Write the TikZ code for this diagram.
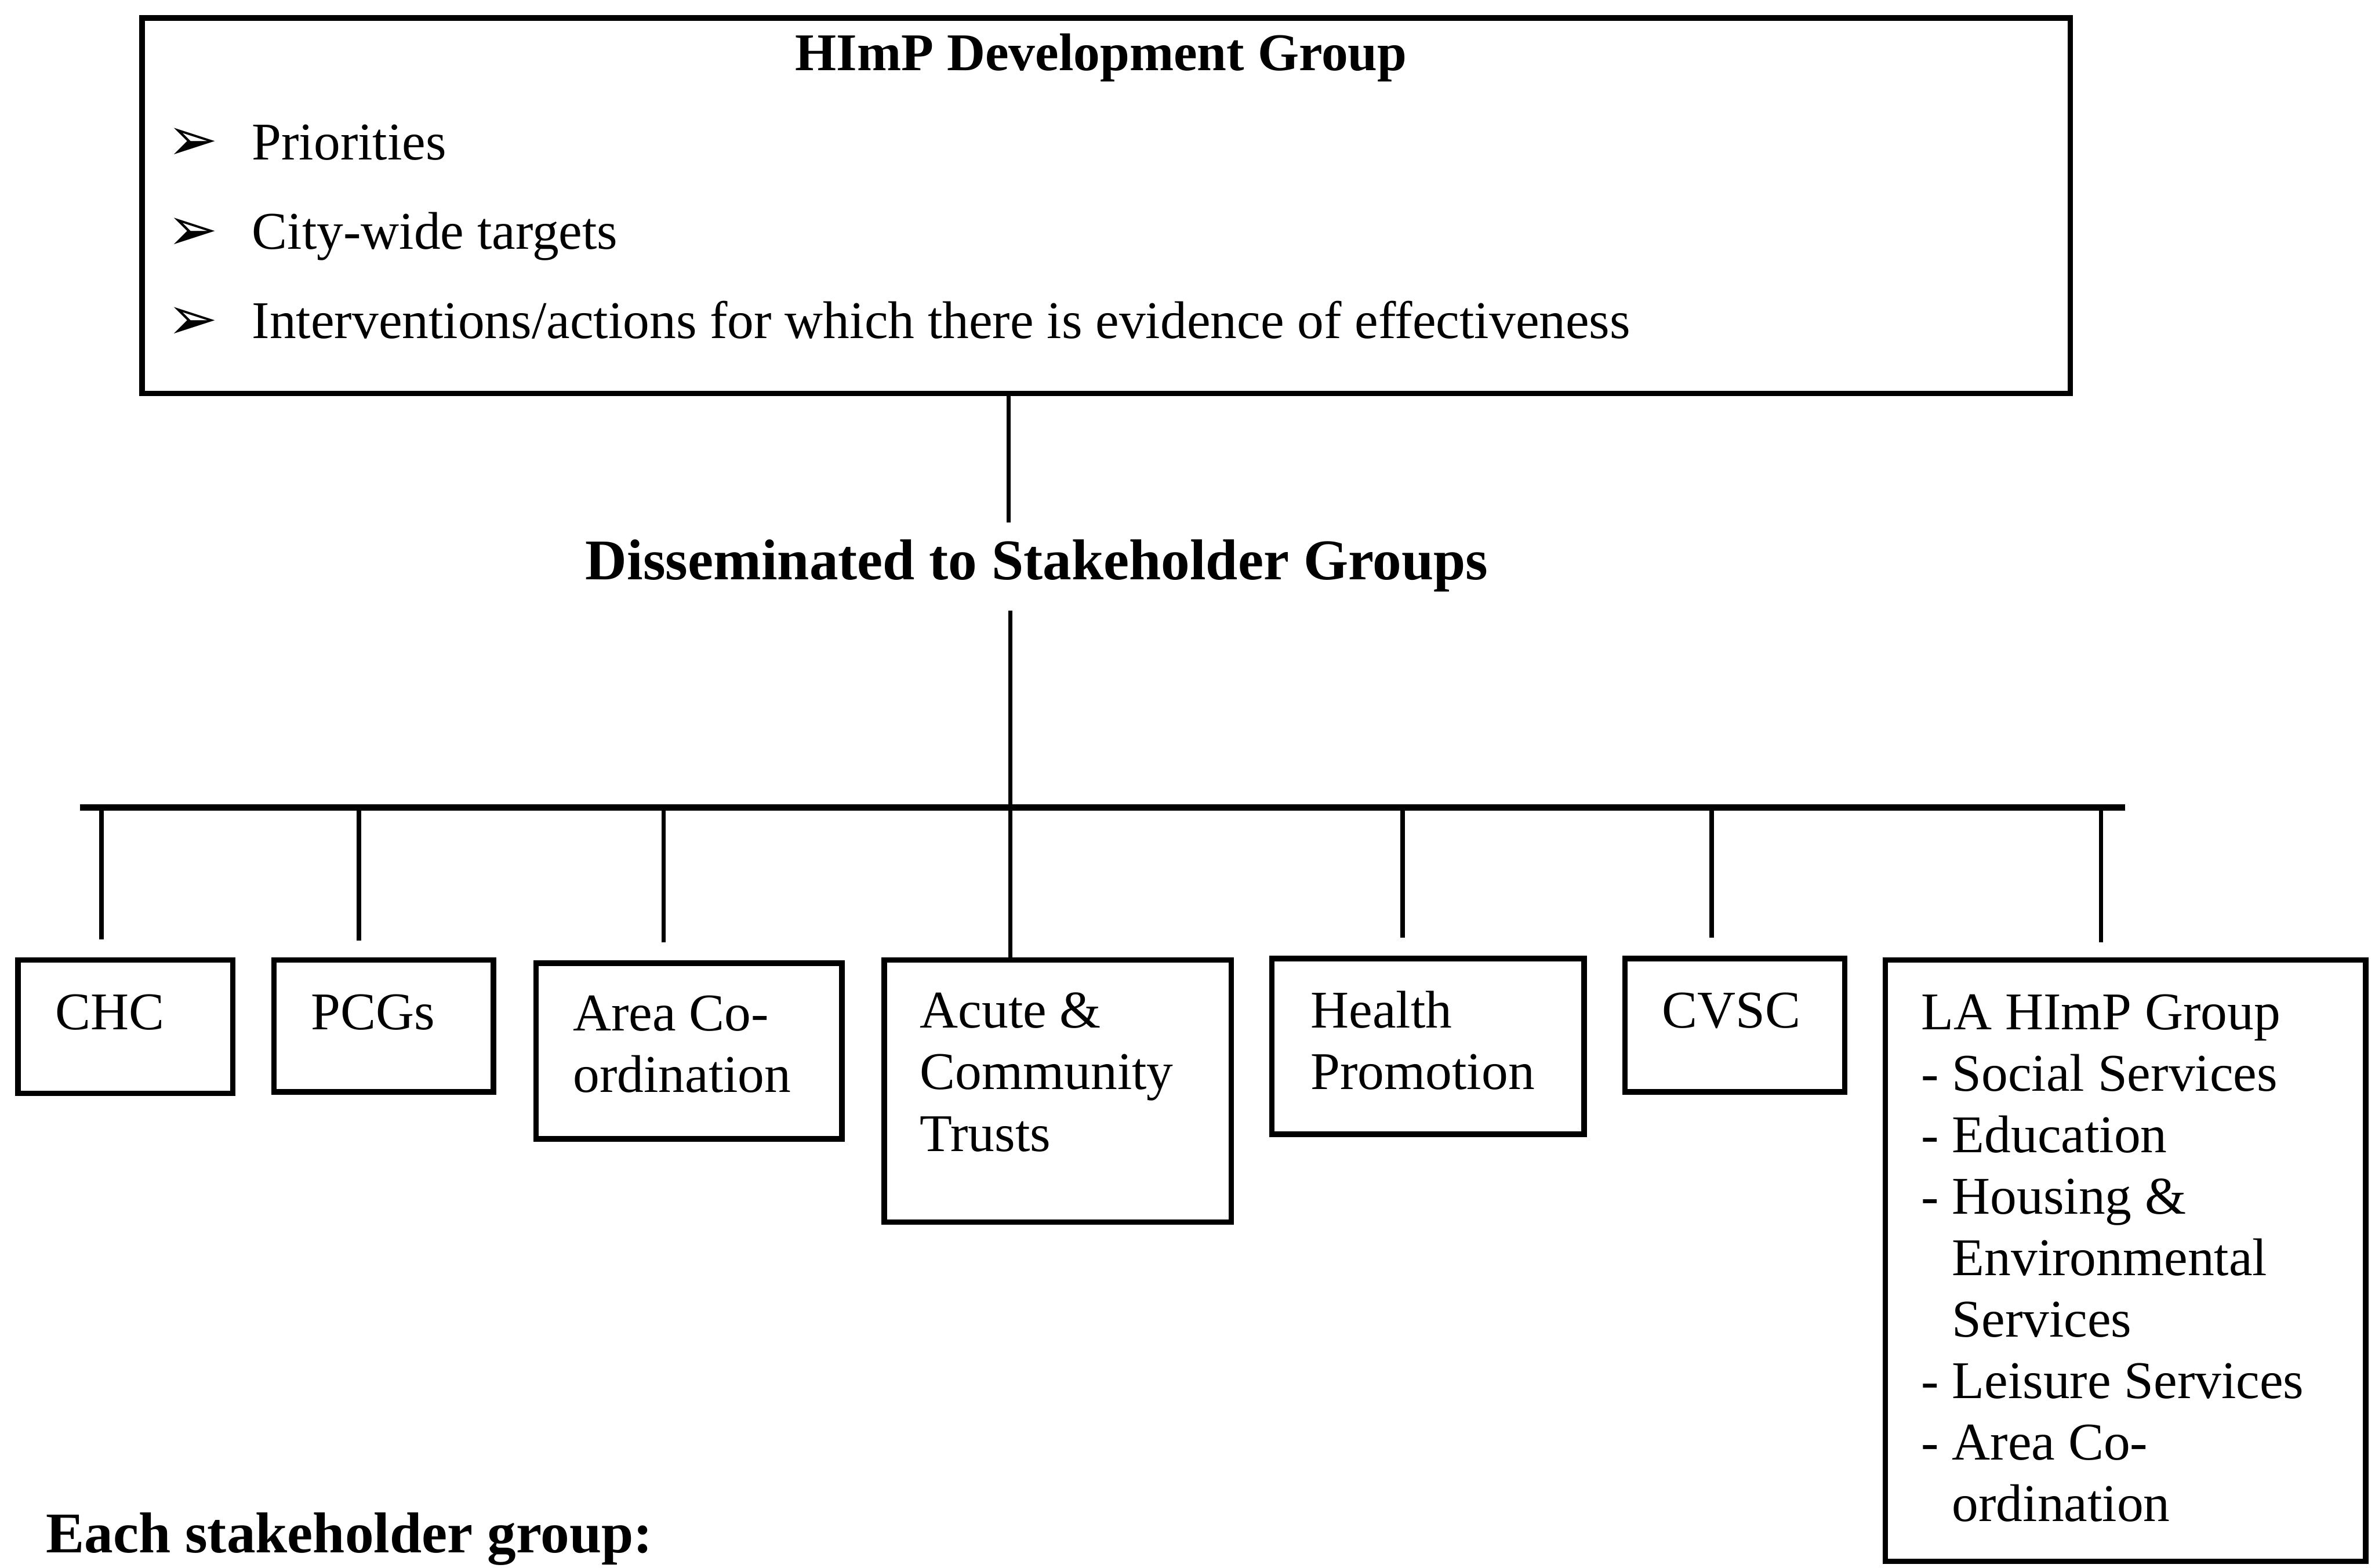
\documentclass[tikz,border=0pt]{standalone}
\usepackage{fontspec}
\setmainfont{Liberation Serif}
\newfontfamily\dejavu{DejaVu Sans}
\usetikzlibrary{calc}
\begin{document}
\begin{tikzpicture}[x=0.5pt,y=-0.5pt,
  boxst/.style={draw, line width=1.8pt, inner sep=0pt, anchor=north west},
  txt/.style={anchor=north west, inner sep=0pt, align=left, font=\fontsize{17.5}{20.3}\selectfont},
  line/.style={anchor=base west, inner sep=0pt, font=\fontsize{17.5}{20.3}\selectfont},
  bul/.style={anchor=base west, inner sep=0pt, font=\dejavu\fontsize{20}{20}\selectfont},
  head/.style={inner sep=0pt, font=\fontsize{19}{22}\selectfont\bfseries},
  conn/.style={line width=1.4pt},
  barst/.style={line width=2.2pt}]
\useasboundingbox (0,0) rectangle (1568,1035);

% top box
\node[boxst, minimum width=636.5pt, minimum height=124pt] (top) at (92,10) {};
\node[anchor=base, inner sep=0pt, font=\fontsize{17.5}{20}\selectfont\bfseries] (title) at (727,46.5) {HImP Development Group};
\node[bul] (b1) at (110,106) {➢};
\node[bul] (b2) at (110,165) {➢};
\node[bul] (b3) at (110,224) {➢};
\node[line] (l1) at (166,105.5) {Priorities};
\node[line] (l2) at (166,164.5) {City-wide targets};
\node[line] (l3) at (166,223.5) {Interventions/actions for which there is evidence of effectiveness};

% dissemination
\node[head, anchor=base] (dis) at (684.5,382.5) {Disseminated to Stakeholder Groups};

% stakeholder boxes
\node[boxst, minimum width=71pt,   minimum height=44pt]   (chc)    at (10,632)   {};
\node[boxst, minimum width=72.5pt, minimum height=43.5pt] (pcg)    at (179,632)  {};
\node[boxst, minimum width=101pt,  minimum height=58pt]   (area)   at (352,634)  {};
\node[boxst, minimum width=114.5pt,minimum height=86.5pt] (acute)  at (582,632)  {};
\node[boxst, minimum width=103pt,  minimum height=58pt]   (health) at (838,631)  {};
\node[boxst, minimum width=72.5pt, minimum height=44pt]   (cvsc)   at (1071,631) {};
\node[boxst, minimum width=158.5pt,minimum height=198.5pt](la)     at (1243,632) {};

\node[txt] (tchc)    at ($(chc.north west)+(26,24)$)    {CHC};
\node[txt] (tpcg)    at ($(pcg.north west)+(26,24)$)    {PCGs};
\node[txt] (tarea)   at ($(area.north west)+(26,23)$)   {Area Co-\\ordination};
\node[txt] (tacute)  at ($(acute.north west)+(25,23)$)  {Acute \&\\Community\\Trusts};
\node[txt] (thealth) at ($(health.north west)+(27,23)$) {Health\\Promotion};
\node[txt] (tcvsc)   at ($(cvsc.north west)+(26,24)$)   {CVSC};
\node[txt] (tla)     at ($(la.north west)+(25,24)$)     {LA HImP Group\\- Social Services\\- Education\\- Housing \&\\\hphantom{- }Environmental\\\hphantom{- }Services\\- Leisure Services\\- Area Co-\\\hphantom{- }ordination};

% connectors
\coordinate (barL) at (53,533);
\coordinate (barR) at (1403,533);
\draw[barst] (barL) -- (barR);
\coordinate (t1) at (666,345);
\draw[conn] (t1 |- top.south) -- (t1);
\coordinate (t2) at (667,403);
\draw[conn] (t2) -- (t2 |- acute.north);
\coordinate (dchc) at (67,620);
\coordinate (dpcg) at (237,621);
\coordinate (darea) at (438,622);
\coordinate (dhealth) at (926,619);
\coordinate (dcvsc) at (1130,619);
\coordinate (dla) at (1387,622);
\foreach \d in {dchc,dpcg,darea,dhealth,dcvsc,dla}
  \draw[conn] (\d |- barL) -- (\d);

% bottom heading
\node[head, anchor=base west] (each) at (30,1025) {Each stakeholder group:};
\end{tikzpicture}
\end{document}
